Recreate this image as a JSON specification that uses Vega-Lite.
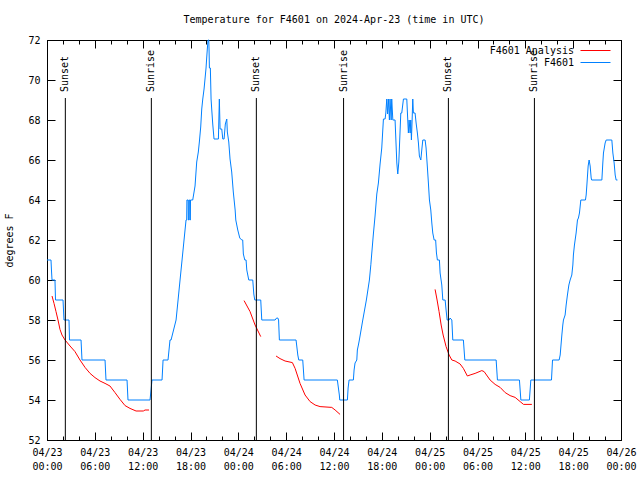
{
  "$schema": "https://vega.github.io/schema/vega-lite/v6.json",
  "width": 574,
  "height": 400,
  "autosize": {"type": "none"},
  "padding": {"left": 47, "top": 40, "right": 19, "bottom": 40},
  "background": "white",
  "title": {"text": "Temperature for F4601 on 2024-Apr-23 (time in UTC)", "font": "DejaVu Sans Mono", "fontSize": 10, "fontWeight": "normal", "color": "black", "anchor": "middle", "frame": "group", "baseline": "bottom", "offset": 0},
  "config": {
    "view": {"stroke": "black", "strokeWidth": 1},
    "font": "DejaVu Sans Mono",
    "axis": {"domainColor": "black", "tickColor": "black", "labelColor": "black", "titleColor": "black", "labelFont": "DejaVu Sans Mono", "labelFontSize": 10, "titleFont": "DejaVu Sans Mono", "titleFontSize": 10, "titleFontWeight": "normal", "grid": false, "tickWidth": 1, "domainWidth": 1}
  },
  "datasets": {
    "obs": [
      {"h":0,"t":61},{"h":0.5,"t":61},{"h":0.56,"t":60.5},{"h":0.63,"t":60},{"h":1.0,"t":60},{"h":1.07,"t":59},{"h":2.01,"t":59},{"h":2.13,"t":58},{"h":2.76,"t":58},{"h":2.82,"t":57},{"h":4.27,"t":57},{"h":4.39,"t":56},{"h":7.28,"t":56},{"h":7.4,"t":55},{"h":10.04,"t":55},{"h":10.16,"t":54},{"h":12.92,"t":54},{"h":13.05,"t":54.5},{"h":13.17,"t":55},{"h":14.43,"t":55},{"h":14.56,"t":56},{"h":15.18,"t":56},{"h":15.43,"t":57},{"h":15.56,"t":57},{"h":16.19,"t":58},{"h":16.44,"t":59},{"h":16.69,"t":60},{"h":16.94,"t":61},{"h":17.19,"t":62},{"h":17.44,"t":63},{"h":17.52,"t":63},{"h":17.55,"t":64},{"h":17.7,"t":64},{"h":17.72,"t":63},{"h":17.78,"t":63},{"h":17.8,"t":64},{"h":17.9,"t":64},{"h":17.92,"t":63},{"h":17.98,"t":63},{"h":18.0,"t":64},{"h":18.28,"t":64},{"h":18.57,"t":64.7},{"h":18.78,"t":65.9},{"h":18.98,"t":66.4},{"h":19.11,"t":66.9},{"h":19.28,"t":67.65},{"h":19.41,"t":68.55},{"h":19.54,"t":69.05},{"h":19.7,"t":69.55},{"h":19.82,"t":70.05},{"h":19.95,"t":70.6},{"h":20.04,"t":71.15},{"h":20.11,"t":71.55},{"h":20.2,"t":72},{"h":20.29,"t":72},{"h":20.33,"t":71.5},{"h":20.37,"t":70.6},{"h":20.49,"t":70.6},{"h":20.58,"t":69.05},{"h":20.66,"t":68.55},{"h":20.79,"t":67.8},{"h":20.95,"t":67.05},{"h":21.5,"t":67.05},{"h":21.62,"t":69.05},{"h":21.71,"t":67.55},{"h":21.92,"t":67.55},{"h":22.05,"t":67.05},{"h":22.21,"t":67.05},{"h":22.37,"t":67.8},{"h":22.55,"t":68.05},{"h":22.62,"t":67.4},{"h":22.8,"t":66.9},{"h":22.96,"t":66.05},{"h":23.17,"t":65.4},{"h":23.37,"t":64.4},{"h":23.6,"t":63.5},{"h":23.68,"t":63.0},{"h":23.93,"t":62.5},{"h":24.18,"t":62.1},{"h":24.43,"t":62.0},{"h":24.55,"t":62},{"h":24.63,"t":61.3},{"h":24.81,"t":61.0},{"h":24.97,"t":61},{"h":25.06,"t":60.5},{"h":25.31,"t":60.0},{"h":25.81,"t":60.0},{"h":25.94,"t":59.3},{"h":26.06,"t":59.0},{"h":26.81,"t":59},{"h":26.94,"t":58},{"h":28.61,"t":58},{"h":28.8,"t":58.1},{"h":28.95,"t":58.1},{"h":29.05,"t":58},{"h":29.15,"t":57},{"h":31.24,"t":57},{"h":31.46,"t":56.25},{"h":31.58,"t":56},{"h":32.08,"t":56},{"h":32.25,"t":55},{"h":36.42,"t":55},{"h":36.67,"t":54.25},{"h":36.72,"t":54},{"h":37.68,"t":54},{"h":37.77,"t":54.6},{"h":37.89,"t":55},{"h":38.43,"t":55},{"h":38.52,"t":55.5},{"h":38.64,"t":55.85},{"h":38.86,"t":56},{"h":38.93,"t":56.5},{"h":39.06,"t":56.75},{"h":39.18,"t":57},{"h":39.61,"t":58},{"h":40.06,"t":59},{"h":40.44,"t":60},{"h":40.62,"t":60.76},{"h":40.74,"t":61.35},{"h":40.94,"t":62.3},{"h":41.15,"t":63.2},{"h":41.37,"t":64.3},{"h":41.57,"t":64.85},{"h":41.78,"t":65.8},{"h":41.99,"t":66.6},{"h":42.12,"t":67.5},{"h":42.2,"t":68.05},{"h":42.41,"t":68.05},{"h":42.5,"t":68.35},{"h":42.62,"t":69.05},{"h":42.72,"t":68.3},{"h":42.82,"t":69.05},{"h":42.95,"t":68},{"h":43.03,"t":69.05},{"h":43.17,"t":68},{"h":43.24,"t":69.05},{"h":43.38,"t":68},{"h":43.66,"t":68},{"h":43.88,"t":65.85},{"h":44.0,"t":65.3},{"h":44.13,"t":65.9},{"h":44.38,"t":68.35},{"h":44.5,"t":68.35},{"h":44.71,"t":69.05},{"h":45.13,"t":69.05},{"h":45.21,"t":68.35},{"h":45.33,"t":67.35},{"h":45.42,"t":68},{"h":45.55,"t":67.35},{"h":45.63,"t":68},{"h":45.71,"t":67.0},{"h":45.8,"t":68},{"h":45.88,"t":69.05},{"h":45.96,"t":68.35},{"h":46.17,"t":68.35},{"h":46.3,"t":67.85},{"h":46.46,"t":67.35},{"h":46.59,"t":66.85},{"h":46.71,"t":66.2},{"h":46.89,"t":66.0},{"h":47.01,"t":66.5},{"h":47.14,"t":67.0},{"h":47.43,"t":67.0},{"h":47.55,"t":66.6},{"h":47.72,"t":65.6},{"h":47.84,"t":64.85},{"h":47.97,"t":64.0},{"h":48.14,"t":63.5},{"h":48.27,"t":62.85},{"h":48.39,"t":62.35},{"h":48.56,"t":62.0},{"h":48.75,"t":62},{"h":48.85,"t":61.35},{"h":48.97,"t":61.0},{"h":49.22,"t":61},{"h":49.31,"t":60.35},{"h":49.52,"t":59.75},{"h":49.65,"t":59.0},{"h":49.94,"t":59},{"h":50.06,"t":58.5},{"h":50.19,"t":58.0},{"h":50.44,"t":58},{"h":50.56,"t":58.1},{"h":50.78,"t":58},{"h":50.9,"t":57.0},{"h":52.23,"t":57},{"h":52.41,"t":56},{"h":56.34,"t":56},{"h":56.5,"t":55},{"h":59.26,"t":55},{"h":59.44,"t":54},{"h":60.51,"t":54},{"h":60.69,"t":55},{"h":63.28,"t":55},{"h":63.41,"t":56},{"h":64.24,"t":56},{"h":64.37,"t":56.25},{"h":64.58,"t":57.25},{"h":64.7,"t":57.75},{"h":64.78,"t":58},{"h":64.99,"t":58.25},{"h":65.12,"t":58.75},{"h":65.28,"t":59.25},{"h":65.46,"t":59.75},{"h":65.62,"t":60},{"h":65.83,"t":60.25},{"h":65.96,"t":60.75},{"h":66.03,"t":61.25},{"h":66.16,"t":61.75},{"h":66.37,"t":62.35},{"h":66.54,"t":63.0},{"h":66.66,"t":63.1},{"h":66.79,"t":63.35},{"h":66.96,"t":64.0},{"h":67.54,"t":64},{"h":67.63,"t":64.25},{"h":67.72,"t":64.75},{"h":67.88,"t":65.7},{"h":68.0,"t":66.0},{"h":68.13,"t":65.7},{"h":68.26,"t":65.1},{"h":68.32,"t":65.0},{"h":69.6,"t":65},{"h":69.72,"t":65.85},{"h":69.8,"t":66.35},{"h":70.01,"t":66.85},{"h":70.14,"t":67.0},{"h":70.85,"t":67},{"h":70.98,"t":66.35},{"h":71.14,"t":65.85},{"h":71.27,"t":65.25},{"h":71.39,"t":65.0},{"h":71.56,"t":65}
    ],
    "ana": [
      {"seg":1,"h":0.63,"t":59.2},{"seg":1,"h":0.88,"t":58.83},{"seg":1,"h":1.13,"t":58.42},{"seg":1,"h":1.38,"t":58.0},{"seg":1,"h":1.63,"t":57.53},{"seg":1,"h":1.88,"t":57.25},{"seg":1,"h":2.26,"t":57.0},{"seg":1,"h":2.89,"t":56.7},{"seg":1,"h":3.51,"t":56.42},{"seg":1,"h":4.14,"t":56.0},{"seg":1,"h":4.77,"t":55.63},{"seg":1,"h":5.4,"t":55.33},{"seg":1,"h":6.02,"t":55.12},{"seg":1,"h":6.65,"t":54.95},{"seg":1,"h":7.28,"t":54.83},{"seg":1,"h":7.9,"t":54.7},{"seg":1,"h":8.53,"t":54.37},{"seg":1,"h":9.16,"t":54.03},{"seg":1,"h":9.79,"t":53.72},{"seg":1,"h":10.41,"t":53.58},{"seg":1,"h":11.17,"t":53.45},{"seg":1,"h":12.08,"t":53.45},{"seg":1,"h":12.3,"t":53.5},{"seg":1,"h":12.8,"t":53.5},
      {"seg":2,"h":24.72,"t":58.97},{"seg":2,"h":25.47,"t":58.42},{"seg":2,"h":26.1,"t":57.75},{"seg":2,"h":26.81,"t":57.17},
      {"seg":3,"h":28.73,"t":56.2},{"seg":3,"h":29.23,"t":56.07},{"seg":3,"h":29.86,"t":55.95},{"seg":3,"h":30.78,"t":55.87},{"seg":3,"h":31.12,"t":55.58},{"seg":3,"h":31.74,"t":54.83},{"seg":3,"h":32.37,"t":54.25},{"seg":3,"h":33.0,"t":53.92},{"seg":3,"h":33.63,"t":53.75},{"seg":3,"h":34.25,"t":53.67},{"seg":3,"h":35.72,"t":53.63},{"seg":3,"h":36.14,"t":53.5},{"seg":3,"h":36.76,"t":53.28},
      {"seg":4,"h":48.68,"t":59.53},{"seg":4,"h":48.93,"t":59.0},{"seg":4,"h":49.18,"t":58.42},{"seg":4,"h":49.44,"t":57.75},{"seg":4,"h":49.69,"t":57.25},{"seg":4,"h":50.06,"t":56.67},{"seg":4,"h":50.44,"t":56.25},{"seg":4,"h":50.78,"t":56.0},{"seg":4,"h":51.19,"t":55.95},{"seg":4,"h":51.82,"t":55.8},{"seg":4,"h":52.23,"t":55.58},{"seg":4,"h":52.73,"t":55.2},{"seg":4,"h":53.07,"t":55.25},{"seg":4,"h":53.7,"t":55.33},{"seg":4,"h":54.54,"t":55.47},{"seg":4,"h":54.83,"t":55.42},{"seg":4,"h":55.58,"t":55.0},{"seg":4,"h":56.21,"t":54.78},{"seg":4,"h":56.84,"t":54.63},{"seg":4,"h":57.47,"t":54.37},{"seg":4,"h":58.09,"t":54.22},{"seg":4,"h":58.72,"t":54.13},{"seg":4,"h":59.35,"t":53.92},{"seg":4,"h":59.77,"t":53.78},{"seg":4,"h":60.82,"t":53.78}
    ],
    "sun": [
      {"h":2.3,"ev":"Sunset"},{"h":13.09,"ev":"Sunrise"},{"h":26.26,"ev":"Sunset"},{"h":37.2,"ev":"Sunrise"},{"h":50.35,"ev":"Sunset"},{"h":61.14,"ev":"Sunrise"}
    ]
  },
  "resolve": {"axis": {"x": "independent", "y": "independent"}},
  "layer": [
    {
      "data": {"name": "ana"},
      "mark": {"type": "line", "strokeWidth": 1},
      "encoding": {
        "x": {"field": "h", "type": "quantitative", "scale": {"domain": [0, 72], "nice": false, "zero": false}, "axis": null},
        "y": {"field": "t", "type": "quantitative", "scale": {"domain": [52, 72], "nice": false, "zero": false}, "axis": null},
        "detail": {"field": "seg", "type": "nominal"},
        "color": {"datum": "F4601 Analysis", "type": "nominal"}
      }
    },
    {
      "data": {"name": "obs"},
      "mark": {"type": "line", "strokeWidth": 1},
      "encoding": {
        "x": {"field": "h", "type": "quantitative", "axis": {"orient": "bottom", "values": [0,2,4,6,8,10,12,14,16,18,20,22,24,26,28,30,32,34,36,38,40,42,44,46,48,50,52,54,56,58,60,62,64,66,68,70,72], "tickSize": {"condition": {"test": "datum.value % 6 == 0", "value": -8}, "value": -4}, "labelExpr": "datum.value % 6 == 0 ? ['04/' + (23 + floor(datum.value / 24)), (datum.value % 24 < 10 ? '0' : '') + (datum.value % 24) + ':00'] : ''", "labelOverlap": false, "labelFlush": false, "labelBound": false, "labelPadding": 15, "labelLineHeight": 14, "title": null}},
        "y": {"field": "t", "type": "quantitative", "axis": {"orient": "left", "values": [52,54,56,58,60,62,64,66,68,70,72], "tickSize": -8, "labelPadding": 15, "title": "degrees F", "titlePadding": 13}},
        "color": {"datum": "F4601", "type": "nominal", "scale": {"domain": ["F4601 Analysis", "F4601"], "range": ["#ff0000", "#0080ff"]},
          "legend": {"title": null, "orient": "none", "legendX": 543, "legendY": 5, "symbolType": "M-3,0H3", "symbolSize": 100, "symbolStrokeWidth": 1, "labelAlign": "right", "labelOffset": -27, "labelFont": "DejaVu Sans Mono", "labelFontSize": 10, "labelColor": "black", "rowPadding": 1, "padding": 0}}
      }
    },
    {
      "data": {"name": "sun"},
      "mark": {"type": "rule", "color": "black", "strokeWidth": 1},
      "encoding": {
        "x": {"field": "h", "type": "quantitative", "axis": {"orient": "top", "values": [0,2,4,6,8,10,12,14,16,18,20,22,24,26,28,30,32,34,36,38,40,42,44,46,48,50,52,54,56,58,60,62,64,66,68,70,72], "tickSize": {"condition": {"test": "datum.value % 6 == 0", "value": -8}, "value": -4}, "labels": false, "title": null}},
        "y": {"datum": 69.1, "type": "quantitative", "axis": {"orient": "right", "values": [52,54,56,58,60,62,64,66,68,70,72], "tickSize": -8, "labels": false, "title": null}},
        "y2": {"datum": 52}
      }
    },
    {
      "data": {"name": "sun"},
      "mark": {"type": "text", "angle": 270, "align": "left", "baseline": "middle", "font": "DejaVu Sans Mono", "fontSize": 10, "color": "black"},
      "encoding": {
        "x": {"field": "h", "type": "quantitative", "axis": null},
        "y": {"datum": 69.4, "type": "quantitative", "axis": null},
        "text": {"field": "ev", "type": "nominal"}
      }
    }
  ]
}
